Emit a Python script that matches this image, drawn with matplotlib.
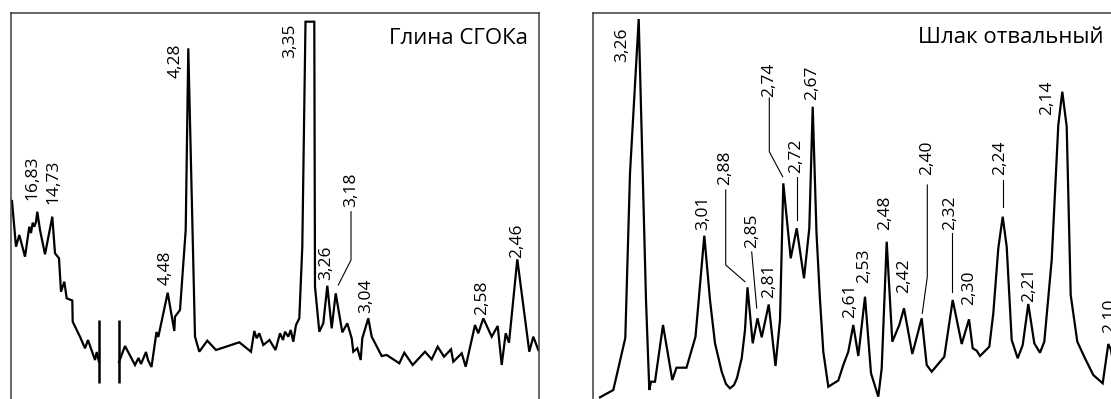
import matplotlib
matplotlib.use("Agg")
import matplotlib.pyplot as plt

plt.rcParams['font.family'] = ['Open Sans', 'DejaVu Sans']

# ---------------- Left panel: "Глина СГОКа" ----------------
left_title = "Глина СГОКа"
# segment before the axis break
left_x1 = [12, 16, 19.3, 25, 29.3, 31, 32.7, 34.3, 36, 37.3, 40, 45, 52.3, 55, 59, 61, 64.3,
           66.7, 72.3, 72.7, 80, 85, 88, 95, 96.7, 99]
left_y1 = [198, 152.3, 164, 142.3, 172.3, 166, 176.3, 172.3, 177, 187.3, 169, 144.7, 182.3,
           145.7, 140.7, 107.3, 117.3, 100.7, 98.5, 77.3, 62.3, 50.7, 59, 39, 47, 37]
# segment after the axis break
left_x2 = [119, 125, 135, 138.5, 141, 146, 148, 151.5, 156.5, 158.3, 167.7, 174.3, 175, 180,
           185.7, 188.3, 195, 199.3, 207.3, 216, 239.3, 251, 254.3, 256.7, 259.3, 263.3,
           269.5, 275.5, 280, 283, 285, 288.3, 290.7, 293.3, 296, 299.3, 302.3, 305.5, 314.3,
           315, 319.3, 323.3, 327.3, 331.7, 335.7, 342.3, 347.3, 351.7, 353.3, 357.3, 360.7,
           362.3, 368.3, 371.7, 381.7, 386.7, 399.3, 404.3, 412.7, 425, 431.7, 437.7, 444,
           451, 453.3, 461.7, 465.7, 475, 478.3, 483.3, 491.7, 497.7, 501.7, 505.7, 509,
           517.3, 529.3, 533.3, 538.3]
left_y2 = [37, 53, 34, 41, 35, 47, 39, 32, 67, 62, 106.3, 68, 82.3, 89,
           169, 350.7, 62.3, 47.3, 58.3, 49, 56.7, 47.3, 68, 60.7, 65.7, 54,
           59, 49, 65.7, 59, 67.3, 62.3, 69, 57.3, 74, 80.7, 152.3, 377.3, 377.3,
           112.3, 67.3, 75.7, 113.3, 70.7, 105.7, 66.7, 75.7, 60.7, 47.3, 50.7, 39,
           60.7, 80.7, 62.3, 43, 44, 35.7, 46.3, 34, 47.3, 39.7, 52.3, 42.3,
           49.7, 37.3, 45.7, 32.3, 74, 65.7, 80.7, 62.3, 73, 34, 65.7, 56.3,
           139.7, 47.3, 62.3, 49]
left_break_x = [99, 118.5]
left_break_y = [16, 79]
left_labels = ["16,83", "14,73", "4,48", "4,28", "3,35", "3,26", "3,18", "3,04", "2,58", "2,46"]
left_label_x = [32.5, 53, 166, 176, 290, 326, 351.5, 366, 482, 517]
left_label_y = [199, 195, 114, 321, 341, 119, 192, 86, 84, 141]
left_leaders = [([351, 351, 338.3], [187.3, 139, 114])]

# ---------------- Right panel: "Шлак отвальный" ----------------
right_title = "Шлак отвальный"
right_x = [600, 613.3, 625.3, 630, 638.7, 646, 649.3, 651, 655, 663, 672.3, 676.5, 686.5,
           695.5, 704.3, 710, 715, 721.7, 726, 730, 734, 737, 741.7, 745, 747.5, 752.7,
           757.5, 761.7, 768.7, 775.5, 780, 783.3, 790.7, 796.7, 804, 809.3, 812.7, 816.5,
           820, 823.3, 828.3, 838.3, 843.3, 848.3, 853.3, 858.3, 865, 871, 878.3, 881.7,
           886.7, 892.3, 899.3, 904, 912.3, 921.7, 926.7, 931.7, 944.3, 952.7, 961.7, 969,
           972.7, 976.7, 980, 989.3, 993.3, 998.3, 1002.7, 1006.7, 1011.7, 1017.7, 1022.7,
           1028.3, 1034.3, 1040, 1044.3, 1051.7, 1058.3, 1062.3, 1066.7, 1070.7, 1077.3,
           1085, 1093.3, 1102.7, 1108.3, 1111, 1116]
right_y = [1.7, 9, 61, 225.7, 380, 99, 9, 17.3, 17.3, 74, 19, 31.3, 31.3,
           62.3, 163.3, 99, 55.7, 27.3, 15, 10.7, 14, 21, 40.7, 69, 111.7, 55.7,
           80.7, 61.7, 94.5, 33, 79, 215.7, 140.7, 170.7, 120.7, 170.7, 292.3, 166,
           99, 47.3, 12.3, 18.5, 34, 47.3, 74, 43, 102.3, 25.7, 2.3, 30.7,
           157.3, 57.3, 74, 90.7, 45, 80.7, 34, 27.3, 42.3, 99, 55, 79.7,
           50.7, 48.3, 43, 52.3, 85.7, 150.7, 182.3, 152.3, 59, 40.7, 54,
           95, 55.7, 46.3, 57.3, 139, 274, 307.3, 272.3, 104, 57.3,
           40.7, 24, 15.7, 55, 49, 20]
right_labels = ["3,26", "3,01", "2,88", "2,85", "2,81", "2,74", "2,72", "2,67", "2,61", "2,53",
                "2,48", "2,42", "2,40", "2,32", "2,30", "2,24", "2,21", "2,14", "2,10"]
right_label_x = [622.5, 703, 725.5, 752.5, 769.5, 769.5, 796, 812.5, 850, 864.5,
                 885.5, 904.5, 927.5, 950.5, 969.5, 1000.5, 1029.5, 1047, 1110]
right_label_y = [337, 169, 214, 151, 101, 302, 226, 299, 81, 116,
                 169, 106, 224, 169, 94, 224, 97, 284, 66]
right_leaders = [([725.7, 725.7, 745], [209, 134, 117.3]),
                 ([751.7, 756.7], [147, 91]),
                 ([769.3, 769.3, 782.7], [301, 247.3, 222.3]),
                 ([797.3, 797.3], [222.3, 179]),
                 ([927.3, 927.3, 922.3], [214, 122.3, 85.7]),
                 ([951.7, 951.7], [165.7, 107.3]),
                 ([1002.7, 1002.7], [219, 192.3])]

W, H = 1111, 399
fig = plt.figure(figsize=(W / 100, H / 100), dpi=100)

def make_axes(x0, x1, top, bottom):
    ax = fig.add_axes([x0 / W, (H - bottom) / H, (x1 - x0) / W, (bottom - top) / H])
    ax.set_xlim(x0, x1)
    ax.set_ylim(H - bottom, H - top)
    ax.set_xticks([])
    ax.set_yticks([])
    for s in ax.spines.values():
        s.set_color('#3c3c3c')
        s.set_linewidth(1.1)
    return ax

LINE = dict(color='black', lw=1.6, solid_joinstyle='miter', clip_on=True)
LBL = dict(rotation=90, ha='center', va='bottom', fontsize=12.5, color='black')

axL = make_axes(11, 538.5, 13, 403)
axL.plot(left_x1, left_y1, **LINE)
axL.plot(left_x2, left_y2, **LINE)
axL.vlines(left_break_x, left_break_y[0], left_break_y[1], color='black', lw=1.8)
for t, x, y in zip(left_labels, left_label_x, left_label_y):
    axL.text(x, y, t, **LBL)
for xs, ys in left_leaders:
    axL.plot(xs, ys, color='black', lw=0.8)
axL.text(528, 355, left_title, ha='right', va='baseline', fontsize=16)

axR = make_axes(593, 1118, 13, 403)
axR.plot(right_x, right_y, **LINE)
for t, x, y in zip(right_labels, right_label_x, right_label_y):
    axR.text(x, y, t, **LBL)
for xs, ys in right_leaders:
    axR.plot(xs, ys, color='black', lw=0.8)
axR.text(1104, 356, right_title, ha='right', va='baseline', fontsize=16)

fig.savefig('out.png', dpi=100)
